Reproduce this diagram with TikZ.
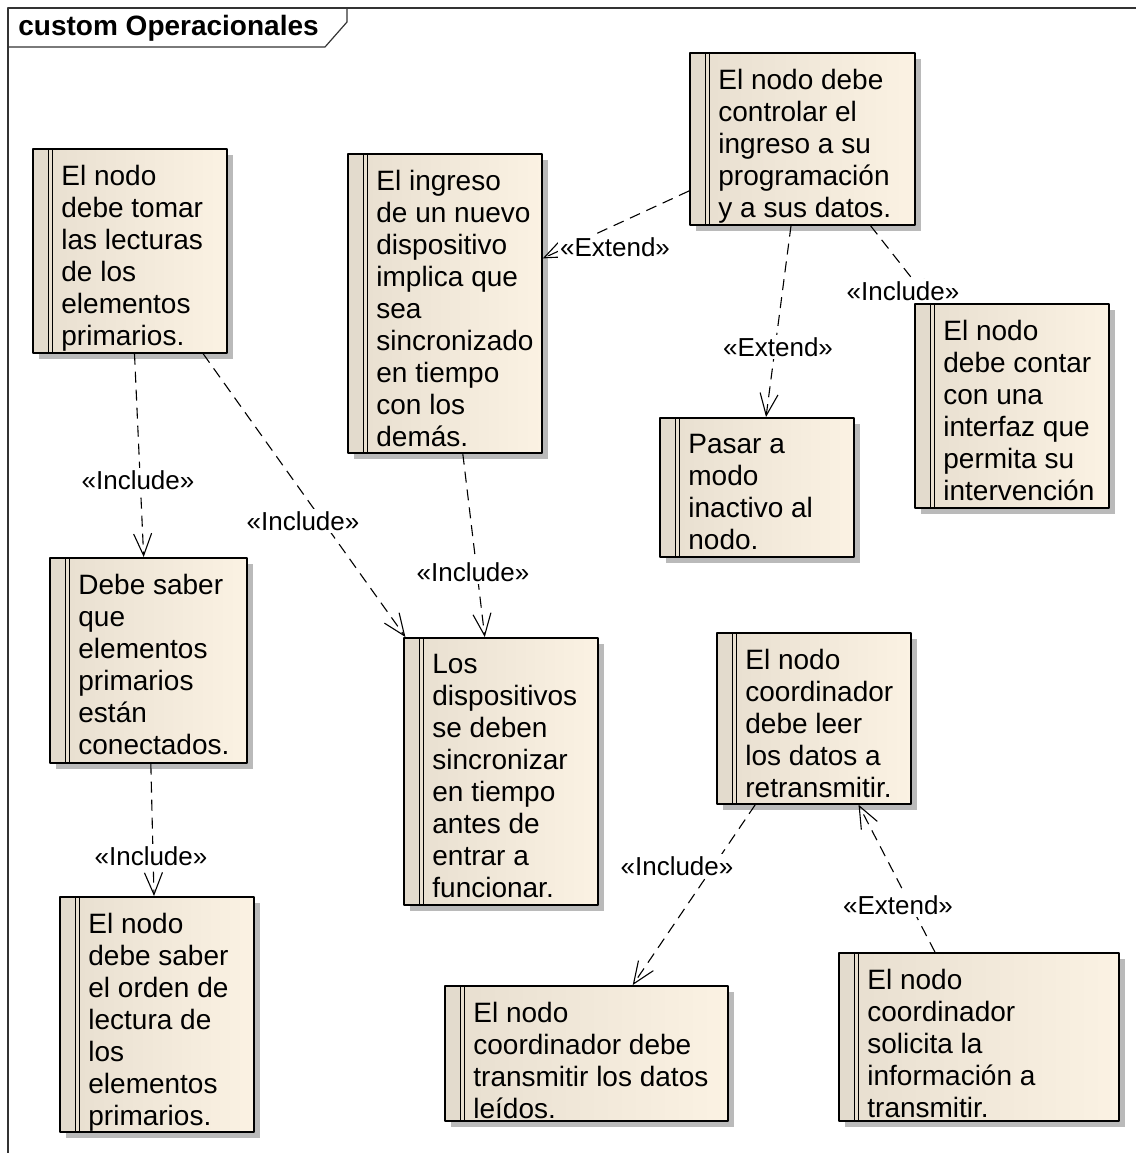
\documentclass[tikz,border=0pt]{standalone}
\usepackage{fontspec}
\setmainfont{Liberation Sans}
\usetikzlibrary{arrows.meta,positioning,shadows}
\definecolor{reqL}{RGB}{231,222,207}
\definecolor{reqR}{RGB}{251,242,227}
\definecolor{reqS}{RGB}{227,219,205}
\begin{document}
\begin{tikzpicture}[x=0.5pt,y=-0.5pt,>={Straight Barb[length=11pt,width=9pt]},line join=round,
	req/.style={draw,line width=0.85pt,anchor=north west,inner sep=0,left color=reqL,right color=reqR,
		drop shadow={shadow xshift=3pt,shadow yshift=-3pt,fill=black!27,opacity=1},
		path picture={\fill[reqS] (path picture bounding box.north west) rectangle ([xshift=8pt]path picture bounding box.south west);
			\foreach \s in {8pt,10pt}{\draw[line width=0.6pt] ([xshift=\s]path picture bounding box.north west)--([xshift=\s]path picture bounding box.south west);}}},
	reqtxt/.style={inner sep=0,align=left,font=\fontsize{14}{16}\selectfont},
	dep/.style={->,dash pattern=on 5.5pt off 3.5pt,line width=0.55pt},
	stereo/.style={fill=white,inner sep=1pt,font=\fontsize{13}{15}\selectfont}]
	\useasboundingbox (0,0) rectangle (1136,1153);
	\clip (0,0) rectangle (1136,1153);
	% marco
	\draw[black!80,line width=0.6pt] (8,8) rectangle (1200,1200);
	\draw[black!80,line width=0.6pt] (8,47)--(325,47)--(347,22)--(347,8);
	\node[anchor=west,inner sep=0,font=\fontsize{14}{16}\selectfont\bfseries] (titulo) at (18,28) {custom Operacionales};
	% requisitos
	\node[req,minimum width=97pt,minimum height=102pt] (a) at (32,148) {};
	\node[reqtxt,below right=8.5pt and 14.5pt of a.north west] (ta) {El nodo\\debe tomar\\las lecturas\\de los\\elementos\\primarios.};
	\node[req,minimum width=97pt,minimum height=149.5pt] (b) at (347,153) {};
	\node[reqtxt,below right=8.5pt and 14.5pt of b.north west] (tb) {El ingreso\\de un nuevo\\dispositivo\\implica que\\sea\\sincronizado\\en tiempo\\con los\\demás.};
	\node[req,minimum width=112.5pt,minimum height=86pt] (c) at (689,52) {};
	\node[reqtxt,below right=8.5pt and 14.5pt of c.north west] (tc) {El nodo debe\\controlar el\\ingreso a su\\programación\\y a sus datos.};
	\node[req,minimum width=97pt,minimum height=102pt] (d) at (914,303) {};
	\node[reqtxt,below right=8.5pt and 14.5pt of d.north west] (td) {El nodo\\debe contar\\con una\\interfaz que\\permita su\\intervención};
	\node[req,minimum width=97pt,minimum height=69.5pt] (e) at (659,417) {};
	\node[reqtxt,below right=8.5pt and 14.5pt of e.north west] (te) {Pasar a\\modo\\inactivo al\\nodo.};
	\node[req,minimum width=98.5pt,minimum height=102.5pt] (f) at (49,557) {};
	\node[reqtxt,below right=8.5pt and 14.5pt of f.north west] (tf) {Debe saber\\que\\elementos\\primarios\\están\\conectados.};
	\node[req,minimum width=97pt,minimum height=133.5pt] (g) at (403,637) {};
	\node[reqtxt,below right=8.5pt and 14.5pt of g.north west] (tg) {Los\\dispositivos\\se deben\\sincronizar\\en tiempo\\antes de\\entrar a\\funcionar.};
	\node[req,minimum width=97pt,minimum height=85.5pt] (h) at (716,632) {};
	\node[reqtxt,below right=8.5pt and 14.5pt of h.north west] (th) {El nodo\\coordinador\\debe leer\\los datos a\\retransmitir.};
	\node[req,minimum width=97pt,minimum height=117.5pt] (i) at (59,896) {};
	\node[reqtxt,below right=8.5pt and 14.5pt of i.north west] (ti) {El nodo\\debe saber\\el orden de\\lectura de\\los\\elementos\\primarios.};
	\node[req,minimum width=141.5pt,minimum height=67.5pt] (j) at (444,985) {};
	\node[reqtxt,below right=8.5pt and 14.5pt of j.north west] (tj) {El nodo\\coordinador debe\\transmitir los datos\\leídos.};
	\node[req,minimum width=140pt,minimum height=84pt] (k) at (838,952) {};
	\node[reqtxt,below right=8.5pt and 14.5pt of k.north west] (tk) {El nodo\\coordinador\\solicita la\\información a\\transmitir.};
	% relaciones
	\draw[dep] (a)--(f);
	\draw[dep] (a)--(g);
	\draw[dep] (b)--(g);
	\draw[dep] (c)--(b);
	\draw[dep] (c)--(e);
	\draw[dep] (c)--(d);
	\draw[dep] (f)--(i);
	\draw[dep] (h)--(j);
	\draw[dep] (k)--(h);
	\node[stereo] (s1) at (138,480) {«Include»};
	\node[stereo] (s2) at (303,521) {«Include»};
	\node[stereo] (s3) at (473,572) {«Include»};
	\node[stereo] (s4) at (615,247) {«Extend»};
	\node[stereo] (s5) at (778,347) {«Extend»};
	\node[stereo] (s6) at (903,291) {«Include»};
	\node[stereo] (s7) at (151,856) {«Include»};
	\node[stereo] (s8) at (677,866) {«Include»};
	\node[stereo] (s9) at (898,905) {«Extend»};
\end{tikzpicture}
\end{document}
